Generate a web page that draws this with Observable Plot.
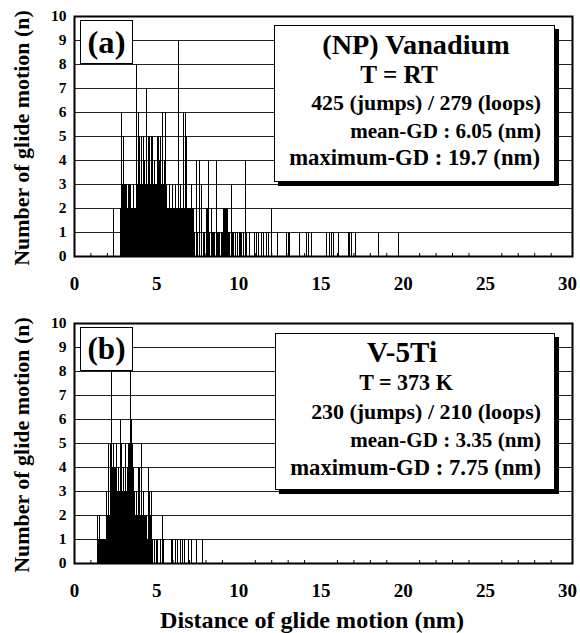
<!DOCTYPE html>
<html><head><meta charset="utf-8">
<script src="https://cdn.jsdelivr.net/npm/d3@7"></script>
<script src="https://cdn.jsdelivr.net/npm/@observablehq/plot@0.6"></script>
<style>
body{margin:0;background:#fff;}
#wrap{position:relative;width:580px;height:633px;font-family:"Liberation Serif","Tinos","DejaVu Serif","Times New Roman",serif;font-weight:bold;color:#000;overflow:hidden;}
.panel{position:absolute;left:0;}
.tag{position:absolute;border:1.5px solid #000;background:#fff;text-align:center;box-sizing:border-box;}
.box{position:absolute;border:1.5px solid #000;background:#fff;box-shadow:4px 4px 0 #000;box-sizing:border-box;}
.box div{position:absolute;white-space:nowrap;line-height:0.8;}
.ylab{position:absolute;white-space:nowrap;line-height:1;transform:translate(-50%,-50%) rotate(-90deg);}
.xlab{position:absolute;white-space:nowrap;line-height:1;transform:translate(-50%,-50%);}
</style></head>
<body><div id="wrap"></div>
<script>
// ---- data ----
const xTicks = [0, 5, 10, 15, 20, 25, 30];
const xMinorTicks = [1,2,3,4,6,7,8,9,11,12,13,14,16,17,18,19,21,22,23,24,26,27,28,29];
const yTicks = [0, 1, 2, 3, 4, 5, 6, 7, 8, 9, 10];
const gridLevels = [1, 2, 3, 4, 5, 6, 7, 8, 9];

// panel (a) (NP) Vanadium, RT : bin start (nm) and count
const distA = [2.35,
 2.75,2.80,2.85,2.90,2.95,3.00,3.05,3.10,3.15,3.20,3.25,3.30,3.35,3.40,3.45,3.50,3.55,3.60,3.65,3.70,
 3.75,3.80,3.85,3.90,3.95,4.00,4.05,4.10,4.15,4.20,4.25,4.30,4.35,4.40,4.45,4.50,4.55,4.60,4.65,4.70,
 4.75,4.80,4.85,4.90,4.95,5.00,5.05,5.10,5.15,5.20,5.25,5.30,5.35,5.40,5.45,5.50,5.55,
 5.60,5.65,5.70,5.75,5.80,5.85,5.90,5.95,6.00,6.05,6.10,6.15,6.20,6.25,6.30,6.35,6.40,6.45,6.50,6.55,
 6.60,6.65,6.70,6.75,6.80,6.85,6.90,6.95,7.00,7.05,7.10,7.15,7.20,
 7.25,7.30,7.40,7.45,7.55,7.60,7.70,7.80,7.85,7.90,8.00,8.05,8.10,8.15,8.20,8.30,8.35,8.45,8.50,8.60,
 8.65,8.75,8.80,8.90,9.00,9.05,9.10,9.15,9.25,9.30,9.35,9.40,9.55,9.60,9.65,9.75,9.90,10.00,10.05,
 10.15,10.25,10.35,10.45,10.60,10.95,11.05,11.15,11.35,11.50,11.65,11.80,11.95,12.35,12.85,13.00,
 13.05,13.65,14.10,14.20,14.40,15.30,15.50,15.60,15.75,16.05,16.65,16.70,16.80,17.10,18.50,19.70];
const countA = [2,
 2,2,6,3,5,3,2,3,3,2,3,3,2,3,2,2,3,2,2,2,
 8,3,6,3,5,3,5,3,5,3,4,3,7,3,5,4,5,3,5,4,
 5,3,4,3,3,5,3,5,4,5,3,6,3,3,4,6,3,
 2,2,2,3,2,2,2,3,2,2,2,3,2,2,9,2,2,3,2,2,
 6,2,2,6,5,2,2,2,2,2,3,2,2,
 1,1,4,1,4,1,3,1,1,1,2,2,4,2,1,2,1,1,1,4,
 1,1,1,1,1,2,2,2,2,2,1,1,3,1,1,1,1,1,1,
 1,1,4,1,1,1,1,1,1,1,1,1,2,1,1,1,
 1,1,1,1,1,1,1,1,1,1,1,1,1,1,1,1];

// panel (b) V-5Ti, 373 K
const distB = [1.40,1.45,1.50,1.55,1.60,1.65,1.75,1.80,1.85,1.90,1.95,
 2.00,2.05,2.10,2.15,2.20,2.25,2.30,2.35,2.40,2.45,2.50,2.55,2.60,2.65,2.70,2.75,2.80,2.85,2.90,2.95,
 3.00,3.05,3.10,3.15,3.20,3.25,3.30,3.35,3.40,3.45,3.50,3.55,3.60,3.65,3.70,3.75,3.80,3.85,3.90,3.95,
 4.00,4.05,4.10,4.15,4.20,4.25,4.30,4.35,4.40,4.45,4.50,4.55,4.60,4.65,4.70,4.75,
 4.85,4.95,5.05,5.20,5.30,5.40,5.85,5.95,6.10,6.15,6.25,6.40,6.55,6.65,6.90,7.10,7.40,7.75];
const countB = [2,1,2,1,1,1,1,1,1,3,1,
 2,5,2,5,4,8,4,5,4,4,3,5,3,4,3,6,3,5,3,4,
 3,5,3,3,4,5,3,5,8,6,5,4,3,3,2,3,2,4,3,4,
 2,5,2,3,3,2,2,2,1,4,2,3,2,3,1,1,
 1,1,1,1,2,1,1,1,1,1,1,1,1,1,1,1,1,1];

const axisTitleX = "Distance of glide motion (nm)";
const axisTitleY = "Number of glide motion (n)";
const panels = [
  {tag:"(a)", dist:distA, count:countA, top:0,
   lines:["(NP) Vanadium","T = RT","425 (jumps) / 279 (loops)","mean-GD : 6.05 (nm)","maximum-GD : 19.7 (nm)"]},
  {tag:"(b)", dist:distB, count:countB, top:307,
   lines:["V-5Ti","T = 373 K","230 (jumps) / 210 (loops)","mean-GD : 3.35 (nm)","maximum-GD : 7.75 (nm)"]}
];

const FONT = '"Liberation Serif","Tinos","DejaVu Serif","Times New Roman",serif';
const wrap = document.getElementById("wrap");
const ctx = document.createElement("canvas").getContext("2d");
function fit(text, targetW) {
  ctx.font = "bold 100px " + FONT;
  return 100 * targetW / ctx.measureText(text).width;
}
const yTickFS = fit("10", 15.5);
const xTickFS = fit("10", 19);

function makePanel(p) {
  const bins = p.dist.map((d, i) => ({x: d + 0.025, n: p.count[i]}));
  return Plot.plot({
    width: 580, height: 301,
    marginTop: 16, marginBottom: 45, marginLeft: 74, marginRight: 8,
    style: {fontFamily: FONT, fontWeight: "bold", fontSize: "15px", color: "#000", background: "#fff", overflow: "visible"},
    x: {domain: [0, 30.3]},
    y: {domain: [0, 10]},
    marks: [
      Plot.ruleY(gridLevels, {stroke: "#222", strokeWidth: 1, shapeRendering: "crispEdges"}),
      Plot.ruleX(bins, {x: "x", y1: 0, y2: "n", stroke: "#000", strokeWidth: 1, shapeRendering: "crispEdges"}),
      Plot.axisX(xMinorTicks, {tickSize: -3, tickFormat: () => "", label: null, stroke: "#000"}),
      Plot.axisX(xTicks, {tickSize: 0, tickPadding: 20, label: null, fontSize: xTickFS}),
      Plot.axisY(yTicks, {tickSize: 0, tickPadding: 8, label: null, fontSize: yTickFS}),
      Plot.frame({stroke: "#000", strokeWidth: 2})
    ]
  });
}

// [anchor x, align, center y (relative to box), target width]
const boxGeom = [
  {left:274, top:25, w:281, h:157, pos:[[415,"c",19,188],[398,"c",49,78],[540,"r",77,230],[540,"r",105,191],[539,"r",132,251]]},
  {left:275, top:333, w:280, h:157, pos:[[401,"c",19,70],[405,"c",49,94],[540,"r",78,230],[540,"r",106,191],[540,"r",134,251]]}
];

panels.forEach((p, k) => {
  const holder = document.createElement("div");
  holder.className = "panel";
  holder.style.top = p.top + "px";
  holder.appendChild(makePanel(p));
  wrap.appendChild(holder);

  const tag = document.createElement("div");
  tag.className = "tag";
  tag.style.left = "80px"; tag.style.top = (p.top + 20) + "px";
  tag.style.width = "53px"; tag.style.height = "44px"; tag.style.lineHeight = "42px";
  tag.style.fontSize = fit(p.tag, 38) + "px";
  tag.textContent = p.tag;
  wrap.appendChild(tag);

  const g = boxGeom[k];
  const box = document.createElement("div");
  box.className = "box";
  box.style.left = g.left + "px"; box.style.top = g.top + "px";
  box.style.width = g.w + "px"; box.style.height = g.h + "px";
  p.lines.forEach((t, i) => {
    const [x, a, y, tw] = g.pos[i];
    const d = document.createElement("div");
    d.textContent = t;
    d.style.fontSize = fit(t, tw) + "px";
    d.style.top = y + "px";
    const lx = x - g.left;
    d.style.left = lx + "px";
    d.style.transform = a === "c" ? "translate(-50%,-50%)" : "translate(-100%,-50%)";
    box.appendChild(d);
  });
  wrap.appendChild(box);

  const yl = document.createElement("div");
  yl.className = "ylab";
  yl.textContent = axisTitleY;
  yl.style.fontSize = fit(axisTitleY, 256) + "px";
  yl.style.left = "22px"; yl.style.top = (p.top + 138) + "px";
  wrap.appendChild(yl);
});

const xl = document.createElement("div");
xl.className = "xlab";
xl.textContent = axisTitleX;
xl.style.fontSize = fit(axisTitleX, 304) + "px";
xl.style.left = "312px"; xl.style.top = "620px";
wrap.appendChild(xl);
</script></body></html>
